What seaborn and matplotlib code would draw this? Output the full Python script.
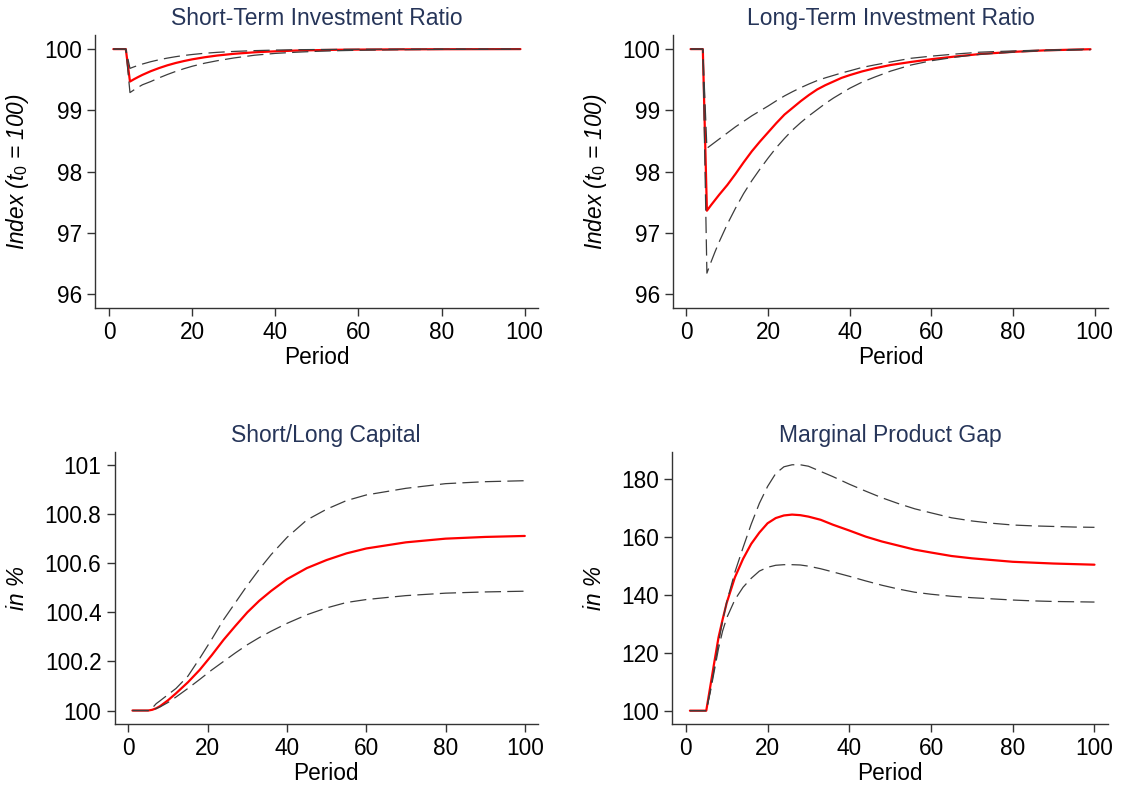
import matplotlib
matplotlib.use("Agg")
import matplotlib.pyplot as plt
import pandas as pd
import seaborn as sns

# ---------------- data ----------------
titles = ["Short-Term Investment Ratio", "Long-Term Investment Ratio",
          "Short/Long Capital", "Marginal Product Gap"]
ylabels = [r"Index ($\mathit{t_0}$ = 100)", r"Index ($\mathit{t_0}$ = 100)", "in %", "in %"]
xlabel = "Period"
xticks = [0, 20, 40, 60, 80, 100]
xtick_labels = ["0", "20", "40", "60", "80", "100"]

# Short-term investment ratio
st_period = [1, 2, 3, 4, 5, 6, 7, 8, 10, 12, 14, 16, 18, 20, 23, 26, 30, 35, 40, 45, 50, 55, 60, 70, 80, 90, 99]
st_mean = [100, 100, 100, 100, 99.470, 99.509, 99.545, 99.579, 99.639, 99.690, 99.735, 99.773, 99.805, 99.833,
           99.867, 99.895, 99.923, 99.948, 99.964, 99.976, 99.983, 99.989, 99.992, 99.996, 99.998, 99.999, 100.0]
st_upper = [100, 100, 100, 100, 99.685, 99.711, 99.734, 99.756, 99.794, 99.826, 99.853, 99.876, 99.896, 99.912,
            99.932, 99.947, 99.962, 99.975, 99.984, 99.990, 99.993, 99.995, 99.997, 99.999, 100.0, 100.0, 100.0]
st_lower = [100, 100, 100, 100, 99.290, 99.335, 99.378, 99.417, 99.470, 99.530, 99.585, 99.635, 99.680, 99.720,
            99.770, 99.810, 99.855, 99.900, 99.930, 99.949, 99.964, 99.974, 99.981, 99.990, 99.995, 99.997, 99.999]
st_yticks = [96, 97, 98, 99, 100]
st_ytick_labels = ["96", "97", "98", "99", "100"]

# Long-term investment ratio
lt_period = [1, 2, 3, 4, 5, 6, 7, 8, 10, 12, 14, 16, 18, 20, 22, 24, 26, 28, 30, 32, 34, 36, 38, 40, 43, 46,
             50, 55, 60, 66, 72, 80, 88, 99]
lt_mean = [100, 100, 100, 100, 97.36, 97.45, 97.535, 97.62, 97.78, 97.96, 98.15, 98.33, 98.49, 98.64, 98.79,
           98.93, 99.04, 99.15, 99.25, 99.34, 99.41, 99.47, 99.53, 99.575, 99.635, 99.685, 99.74, 99.79, 99.835,
           99.88, 99.92, 99.955, 99.98, 99.998]
lt_upper = [100, 100, 100, 100, 98.38, 98.43, 98.48, 98.53, 98.63, 98.73, 98.82, 98.91, 98.99, 99.07, 99.155,
            99.235, 99.305, 99.37, 99.43, 99.485, 99.53, 99.57, 99.61, 99.645, 99.70, 99.74, 99.79, 99.85,
            99.885, 99.92, 99.95, 99.97, 99.985, 100.0]
lt_lower = [100, 100, 100, 100, 96.34, 96.52, 96.69, 96.85, 97.14, 97.40, 97.64, 97.85, 98.04, 98.22, 98.39,
            98.54, 98.68, 98.80, 98.91, 99.01, 99.11, 99.20, 99.28, 99.36, 99.46, 99.54, 99.64, 99.74, 99.81,
            99.87, 99.915, 99.95, 99.975, 99.99]
lt_yticks = [96, 97, 98, 99, 100]
lt_ytick_labels = ["96", "97", "98", "99", "100"]

# Short/long capital
sl_period = [1, 2, 3, 4, 5, 6, 7, 8, 10, 12, 15, 18, 21, 24, 27, 30, 33, 36, 40, 45, 50, 55, 60, 70, 80, 90, 100]
sl_mean = [100, 100, 100, 100, 100, 100.003, 100.009, 100.018, 100.042, 100.070, 100.115, 100.166, 100.225,
           100.288, 100.345, 100.400, 100.447, 100.487, 100.535, 100.580, 100.613, 100.640, 100.660, 100.685,
           100.700, 100.707, 100.711]
sl_upper = [100, 100, 100, 100, 100, 100.010, 100.028, 100.040, 100.065, 100.090, 100.140, 100.213, 100.290,
            100.370, 100.440, 100.510, 100.575, 100.635, 100.705, 100.776, 100.820, 100.855, 100.878, 100.905,
            100.924, 100.932, 100.936]
sl_lower = [100, 100, 100, 100, 100, 100.003, 100.008, 100.015, 100.033, 100.055, 100.090, 100.127, 100.165,
            100.200, 100.235, 100.268, 100.297, 100.323, 100.355, 100.390, 100.418, 100.440, 100.452, 100.468,
            100.478, 100.483, 100.486]
sl_yticks = [100, 100.2, 100.4, 100.6, 100.8, 101]
sl_ytick_labels = ["100", "100.2", "100.4", "100.6", "100.8", "101"]

# Marginal product gap
mp_period = [1, 2, 3, 4, 5, 6, 7, 8, 9, 10, 12, 14, 16, 18, 20, 22, 24, 26, 28, 30, 33, 36, 40, 44, 48, 52,
             56, 60, 65, 70, 75, 80, 85, 90, 95, 100]
mp_mean = [100, 100, 100, 100, 100, 108.5, 117.0, 125.3, 131.5, 137.2, 146.0, 152.4, 157.6, 161.5, 164.7,
           166.5, 167.4, 167.7, 167.5, 167.0, 165.9, 164.2, 162.2, 160.1, 158.4, 157.0, 155.6, 154.6, 153.4,
           152.6, 152.0, 151.4, 151.1, 150.8, 150.6, 150.4]
mp_upper = [100, 100, 100, 100, 100, 107.0, 115.0, 123.5, 131.0, 137.5, 147.8, 156.3, 164.4, 171.6, 177.4,
            181.9, 184.2, 184.9, 184.9, 184.4, 182.6, 180.8, 178.2, 175.8, 173.5, 171.5, 169.7, 168.3, 166.6,
            165.5, 164.7, 164.1, 163.8, 163.6, 163.4, 163.3]
mp_lower = [100, 100, 100, 100, 100, 106.5, 114.0, 121.5, 127.5, 132.0, 138.3, 142.6, 145.7, 148.2, 149.5,
            150.2, 150.4, 150.4, 150.3, 149.9, 149.0, 147.9, 146.4, 144.8, 143.3, 142.0, 140.9, 140.2, 139.5,
            139.0, 138.6, 138.2, 137.9, 137.7, 137.6, 137.5]
mp_yticks = [100, 120, 140, 160, 180]
mp_ytick_labels = ["100", "120", "140", "160", "180"]

# ---------------- styling ----------------
sns.set_theme(style="white")
plt.rcParams["font.family"] = ["Liberation Sans", "DejaVu Sans"]
plt.rcParams["mathtext.fontset"] = "custom"
plt.rcParams["mathtext.rm"] = "Liberation Sans"
plt.rcParams["mathtext.it"] = "Liberation Sans:italic"

TITLE_COLOR = "#263559"
AX_COLOR = "#333333"
RED = "#ff0000"
DASH_COLOR = "#3c3c3c"
FS = 16.3

fig = plt.figure(figsize=(11.3, 7.87), dpi=100)

panels = [
    dict(pos=[0.0845, 0.6086, 0.3915, 0.3469], period=st_period, mean=st_mean, up=st_upper, lo=st_lower,
         yticks=st_yticks, ylabels=st_ytick_labels, xlim=(-3.3, 103.2), ylim=(95.77, 100.23), lpad=10),
    dict(pos=[0.5956, 0.6086, 0.3850, 0.3469], period=lt_period, mean=lt_mean, up=lt_upper, lo=lt_lower,
         yticks=lt_yticks, ylabels=lt_ytick_labels, xlim=(-3.3, 103.3), ylim=(95.77, 100.23), lpad=9),
    dict(pos=[0.1014, 0.0797, 0.3746, 0.3463], period=sl_period, mean=sl_mean, up=sl_upper, lo=sl_lower,
         yticks=sl_yticks, ylabels=sl_ytick_labels, xlim=(-3.5, 103.3), ylim=(99.944, 101.054), lpad=11),
    dict(pos=[0.5950, 0.0797, 0.3855, 0.3463], period=mp_period, mean=mp_mean, up=mp_upper, lo=mp_lower,
         yticks=mp_yticks, ylabels=mp_ytick_labels, xlim=(-3.3, 103.3), ylim=(95.3, 189.4), lpad=11),
]

for i, p in enumerate(panels):
    ax = fig.add_axes(p["pos"])
    df = pd.DataFrame({"Period": p["period"], "mean": p["mean"], "upper": p["up"], "lower": p["lo"]})
    sns.lineplot(data=df, x="Period", y="mean", ax=ax, color=RED, lw=1.6, estimator=None, zorder=2)
    for col in ["upper", "lower"]:
        sns.lineplot(data=df, x="Period", y=col, ax=ax, color=DASH_COLOR, lw=0.9,
                     linestyle=(0, (13, 5)), estimator=None, zorder=3)
    ax.set_xlim(*p["xlim"])
    ax.set_ylim(*p["ylim"])
    ax.set_xticks(xticks)
    ax.set_xticklabels(xtick_labels)
    ax.set_yticks(p["yticks"])
    ax.set_yticklabels(p["ylabels"])
    ax.set_title(titles[i], color=TITLE_COLOR, fontsize=16.5, pad=7)
    ax.set_xlabel(xlabel, fontsize=FS, labelpad=1, color="black")
    ax.set_ylabel(ylabels[i], fontsize=FS, style="italic", labelpad=p["lpad"], color="black")
    for s in ["top", "right"]:
        ax.spines[s].set_visible(False)
    for s in ["left", "bottom"]:
        ax.spines[s].set_color(AX_COLOR)
        ax.spines[s].set_linewidth(1.0)
    ax.tick_params(axis="both", direction="out", length=5.5, width=1.0, color=AX_COLOR,
                   labelsize=FS, labelcolor="black", pad=4, left=True, bottom=True)
    ax.set_facecolor("white")

fig.savefig("out.png", dpi=100, facecolor="white")
